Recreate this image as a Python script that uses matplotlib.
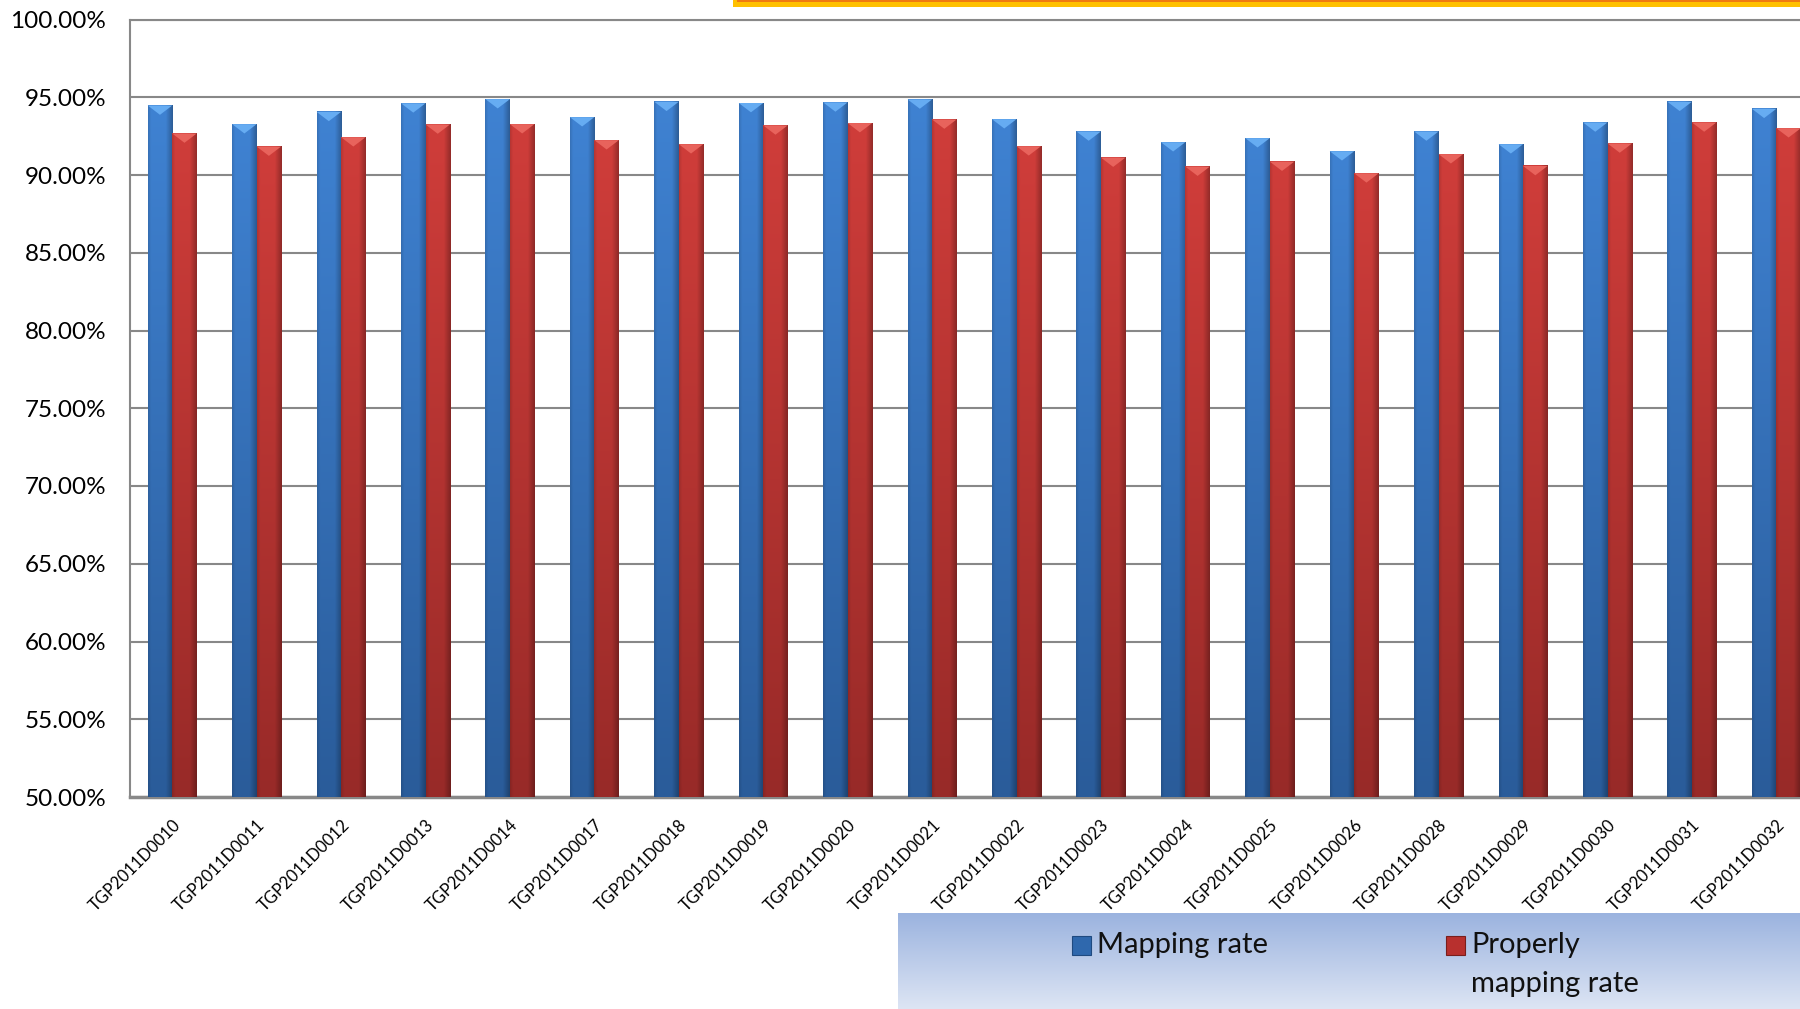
import numpy as np
import matplotlib
matplotlib.use("Agg")
from matplotlib import pyplot as plt
from matplotlib.patches import Polygon, Rectangle
from matplotlib.colors import to_rgb

samples = ["TGP2011D0010", "TGP2011D0011", "TGP2011D0012", "TGP2011D0013",
           "TGP2011D0014", "TGP2011D0017", "TGP2011D0018", "TGP2011D0019",
           "TGP2011D0020", "TGP2011D0021", "TGP2011D0022", "TGP2011D0023",
           "TGP2011D0024", "TGP2011D0025", "TGP2011D0026", "TGP2011D0028",
           "TGP2011D0029", "TGP2011D0030", "TGP2011D0031", "TGP2011D0032"]
mapping_rate = [94.47, 93.27, 94.06, 94.61, 94.88, 93.72, 94.71, 94.63, 94.67, 94.86,
                93.59, 92.80, 92.11, 92.37, 91.53, 92.80, 91.98, 93.38, 94.71, 94.26]
properly_rate = [92.67, 91.83, 92.43, 93.25, 93.27, 92.24, 91.98, 93.19, 93.34, 93.57,
                 91.85, 91.12, 90.54, 90.86, 90.11, 91.34, 90.58, 92.03, 93.38, 93.01]
yticks = [50, 55, 60, 65, 70, 75, 80, 85, 90, 95, 100]

FONT = "Lato"
W, H = 1800, 1009


def shade_bar(ax, bar, top_col, bot_col, cap_col):
    # paint a gradient inside the bar rectangle, plus the little pyramid cap
    x, w = bar.get_x(), bar.get_width()
    y0, h = bar.get_y(), bar.get_height()
    t = np.linspace(0, 1, 80)[:, None, None]
    col = np.array(to_rgb(bot_col)) * (1 - t) + np.array(to_rgb(top_col)) * t
    s = np.linspace(0, 1, 40)
    prof = (1.0 - 0.28 * np.clip((s - 0.72) / 0.28, 0, 1)
            - 0.12 * np.clip((0.12 - s) / 0.12, 0, 1))
    img = np.clip(col * prof[None, :, None], 0, 1)
    ax.imshow(img, extent=[x, x + w, y0, y0 + h], origin="lower",
              aspect="auto", zorder=3, interpolation="bilinear")
    top = y0 + h
    ax.add_patch(Polygon([[x, top], [x + w, top], [x + w / 2, top - 0.6]],
                         closed=True, facecolor=cap_col, edgecolor="none", zorder=4))


fig = plt.figure(figsize=(W / 100, H / 100), dpi=100)
fig.patch.set_facecolor("white")

left = 130 / W
bottom = 1 - 797 / H
top = 1 - 19.5 / H
ax = fig.add_axes([left, bottom, 1 - left, top - bottom])

x = np.arange(len(samples))
bw = 0.29
blue_bars = ax.bar(x - bw / 2, np.array(mapping_rate) - 50, bw, bottom=50,
                   color="none", edgecolor="none", zorder=3)
red_bars = ax.bar(x + bw / 2, np.array(properly_rate) - 50, bw, bottom=50,
                  color="none", edgecolor="none", zorder=3)
for b in blue_bars:
    shade_bar(ax, b, "#3f82d2", "#2a5c9a", "#66acf2")
for b in red_bars:
    shade_bar(ax, b, "#cf3d3a", "#982a28", "#e8635c")

ax.set_xlim(-0.5, 19.28)
ax.set_ylim(50, 100)
ax.set_yticks(yticks)
ax.set_yticklabels([f"{v:.2f}%" for v in yticks], fontsize=17.5, family=FONT)
ax.tick_params(axis="y", length=0, pad=17)
ax.set_xticks(x)
ax.set_xticklabels(samples, rotation=45, ha="right", va="top",
                   rotation_mode="anchor", fontsize=12, family=FONT)
ax.tick_params(axis="x", length=0, pad=14)

ax.grid(axis="y", color="#888888", linewidth=1.5, zorder=1)
ax.set_axisbelow(True)
for side in ["left", "top"]:
    ax.spines[side].set_color("#888888")
    ax.spines[side].set_linewidth(1.5)
ax.spines["bottom"].set_color("#888888")
ax.spines["bottom"].set_linewidth(2.5)
ax.spines["right"].set_visible(False)

# legend panel at the lower right, blue gradient
lx0, ly1 = 898 / W, 1 - 913 / H
lax = fig.add_axes([lx0, 0, 1 - lx0, ly1])
g = np.linspace(0, 1, 100)[:, None, None]
grad = np.array(to_rgb("#dde5f4")) * (1 - g) + np.array(to_rgb("#9bb3df")) * g
lax.imshow(grad, extent=[0, 1, 0, 1], origin="lower", aspect="auto")
lax.axis("off")

# legend entries drawn by hand so the swatch lines up with the first line
fig.patches.append(Rectangle((1072 / W, 1 - 955 / H), 19 / W, 19 / H,
                             transform=fig.transFigure, facecolor="#2f68ad",
                             edgecolor="#1f4a80", linewidth=0.8))
fig.patches.append(Rectangle((1446 / W, 1 - 955 / H), 19 / W, 19 / H,
                             transform=fig.transFigure, facecolor="#b8302e",
                             edgecolor="#7a1e1c", linewidth=0.8))
fig.text(1097 / W, 1 - 945 / H, "Mapping rate", fontsize=21, family=FONT,
         va="center", ha="left", color="#111111")
fig.text(1471 / W, 1 - 945 / H, "Properly", fontsize=21, family=FONT,
         va="center", ha="left", color="#111111")
fig.text(1471 / W, 1 - 984 / H, "mapping rate", fontsize=21, family=FONT,
         va="center", ha="left", color="#111111")

# orange strip of a cut-off shape along the top edge
fig.patches.append(Rectangle((733 / W, 1 - 7 / H), 1 - 733 / W, 7 / H,
                             transform=fig.transFigure, facecolor="#ffc000",
                             edgecolor="none"))
fig.patches.append(Rectangle((737 / W, 1 - 2 / H), 1 - 737 / W, 2 / H,
                             transform=fig.transFigure, facecolor="#f07a10",
                             edgecolor="none"))

fig.savefig("out.png", dpi=100)
